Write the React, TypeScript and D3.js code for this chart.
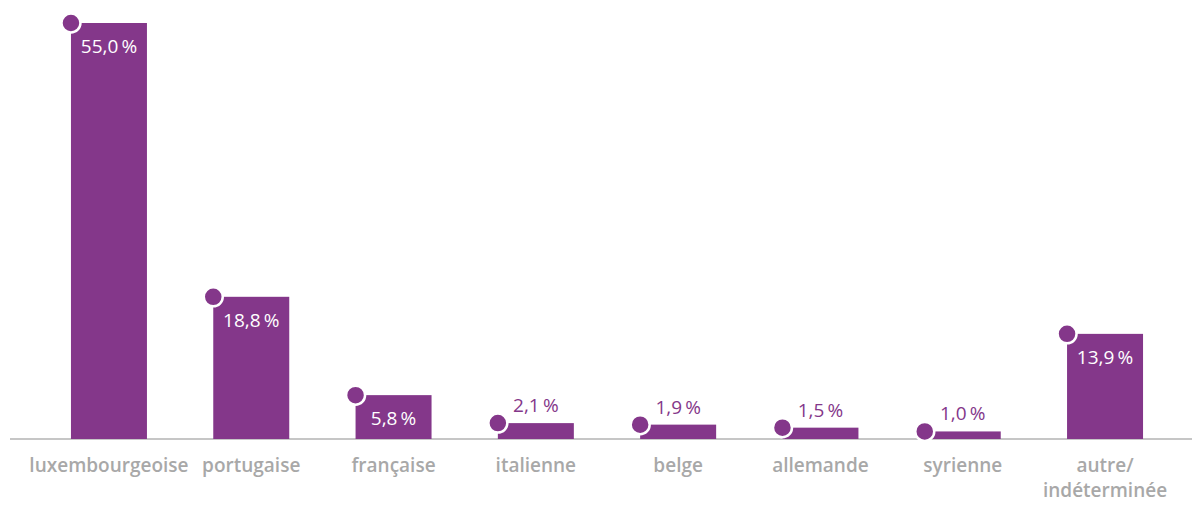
import React, { useEffect, useRef } from 'react';
import * as d3 from 'd3';

const categories = ['luxembourgeoise', 'portugaise', 'française', 'italienne', 'belge', 'allemande', 'syrienne', 'autre/\nindéterminée'];
const values = [55.0, 18.8, 5.8, 2.1, 1.9, 1.5, 1.0, 13.9];

const PURPLE = '#84378a';

export default function App() {
  const svgRef = useRef<SVGSVGElement>(null);

  useEffect(() => {
    if (!svgRef.current) return;
    const width = 1192;
    const height = 512;
    const svg = d3.select(svgRef.current).attr('width', width).attr('height', height).html('');

    const x = d3.scaleBand<string>()
      .domain(categories)
      .range([42.5, 1171.5])
      .paddingInner(0.466)
      .paddingOuter(0.2);
    const y = d3.scaleLinear().domain([0, 55]).range([439, 23]);

    const font = "'Open Sans', sans-serif";

    svg.append('line')
      .attr('x1', 10).attr('x2', width)
      .attr('y1', y(0)).attr('y2', y(0))
      .attr('stroke', '#b3b3b3').attr('stroke-width', 1.5);

    const fmt = (v: number) => v.toFixed(1).replace('.', ',') + '\u2009%';

    const g = svg.selectAll('g.bar').data(values).enter().append('g').attr('class', 'bar');
    g.append('rect')
      .attr('x', (_, i) => x(categories[i])!)
      .attr('y', d => y(d))
      .attr('width', x.bandwidth())
      .attr('height', d => y(0) - y(d))
      .attr('fill', PURPLE);
    g.append('circle')
      .attr('cx', (_, i) => x(categories[i])!)
      .attr('cy', d => y(d))
      .attr('r', 9.5)
      .attr('fill', PURPLE)
      .attr('stroke', '#fff')
      .attr('stroke-width', 2.5);
    g.append('text')
      .attr('x', (_, i) => x(categories[i])! + x.bandwidth() / 2)
      .attr('y', d => d >= 5 ? y(d) + 30 : y(d) - 11)
      .attr('text-anchor', 'middle')
      .attr('font-family', font)
      .attr('font-size', 19)
      .attr('fill', d => d >= 5 ? '#fff' : PURPLE)
      .text(d => fmt(d));

    categories.forEach(c => {
      const lines = c.split('\n');
      const t = svg.append('text')
        .attr('x', x(c)! + x.bandwidth() / 2)
        .attr('y', 472)
        .attr('text-anchor', 'middle')
        .attr('font-family', font)
        .attr('font-weight', 600)
        .attr('font-size', 19)
        .attr('fill', '#a8a8a8');
      lines.forEach((l, i) => {
        t.append('tspan').attr('x', x(c)! + x.bandwidth() / 2).attr('dy', i === 0 ? 0 : 25).text(l);
      });
    });
  }, []);

  return (
    <div style={{ position: 'absolute', left: 0, top: 0 }}>
      <svg ref={svgRef}></svg>
    </div>
  );
}
